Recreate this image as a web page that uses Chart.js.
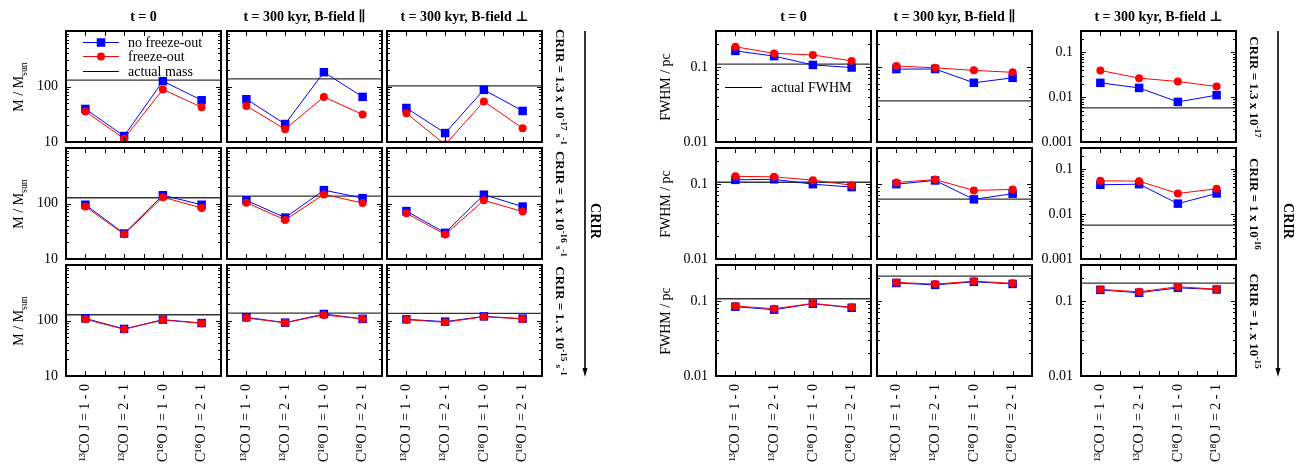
<!DOCTYPE html>
<html>
<head>
<meta charset="utf-8">
<script src="https://cdn.jsdelivr.net/npm/chart.js@4.4.1/dist/chart.umd.min.js"></script>
<style>
  body { margin: 0; background: #fff; width: 1297px; height: 467px; position: relative; overflow: hidden;
         font-family: 'Liberation Serif', 'DejaVu Serif', serif; color: #000; }
  canvas { position: absolute; }
  .lbl { position: absolute; white-space: nowrap; font-size: 14px; line-height: 16px; transform: translate(-50%, -50%); }
  .b { font-weight: bold; }
  .crir { font-size: 13px; }
  .up { transform: translate(-50%, -50%) rotate(-90deg); }
  .down { transform: translate(-50%, -50%) rotate(90deg); }
  sup, sub, small { font-size: 70%; line-height: 0; }
  svg { position: absolute; }
</style>
</head>
<body>
<script>
// --- data ---
const lines = ['¹³CO J = 1 - 0', '¹³CO J = 2 - 1', 'C¹⁸O J = 1 - 0', 'C¹⁸O J = 2 - 1'];
const columnTitles = ['t = 0', 't = 300 kyr, B-field ∥', 't = 300 kyr, B-field ⊥'];
const seriesNames = ['no freeze-out', 'freeze-out'];
const truthNames = ['actual mass', 'actual FWHM'];
const yTitles = ['M / M<sub>sun</sub>', 'FWHM / pc'];
const crirMass = ['CRIR = 1.3 x 10<sup>-17</sup> <small>s</small><sup>-1</sup>',
                  'CRIR = 1 x 10<sup>-16</sup> <small>s</small><sup>-1</sup>',
                  'CRIR = 1. x 10<sup>-15</sup> <small>s</small><sup>-1</sup>'];
const crirFwhm = ['CRIR = 1.3 x 10<sup>-17</sup>', 'CRIR = 1 x 10<sup>-16</sup>', 'CRIR = 1. x 10<sup>-15</sup>'];

// [CRIR row][column][line]
const massNoFO = [
  [[39.4, 12.8, 125, 56.6], [59, 21.1, 181, 65], [41, 14.5, 87, 36.3]],
  [[95, 28.8, 141, 95], [114, 55.7, 174, 125], [73, 29.6, 144, 88]],
  [[109, 70.6, 103.5, 90], [114, 91.5, 131, 107], [105, 95.4, 118.6, 108]]
];
const massFO = [
  [[35.4, 11.5, 88.5, 42.4], [44.7, 17, 65, 31.3], [33, 9, 53.8, 17.7]],
  [[88, 28, 130, 83], [103.5, 50.6, 146, 102], [66.7, 27.7, 114, 71.5]],
  [[105, 69.5, 102, 89], [111, 91, 126, 107], [103.5, 92.7, 117, 106.7]]
];
const massTrue = [[130, 137, 103], [127, 136, 134], [127, 136, 134]];

const fwhmNoFO = [
  [[0.163, 0.139, 0.106, 0.098], [0.0935, 0.0935, 0.0614, 0.0714], [0.0209, 0.0161, 0.00785, 0.0111]],
  [[0.113, 0.115, 0.099, 0.0905], [0.099, 0.111, 0.0622, 0.074], [0.0453, 0.0468, 0.0172, 0.029]],
  [[0.0836, 0.0763, 0.0916, 0.081], [0.173, 0.163, 0.179, 0.168], [0.14, 0.128, 0.149, 0.1416]]
];
const fwhmFO = [
  [[0.185, 0.151, 0.144, 0.12], [0.1025, 0.097, 0.0898, 0.0845], [0.0395, 0.0266, 0.0224, 0.0173]],
  [[0.126, 0.124, 0.112, 0.096], [0.1044, 0.114, 0.0818, 0.0843], [0.0556, 0.0546, 0.029, 0.037]],
  [[0.0853, 0.0786, 0.0925, 0.082], [0.176, 0.167, 0.183, 0.171], [0.142, 0.132, 0.154, 0.143]]
];
const fwhmTrue = [[0.109, 0.0352, 0.00577], [0.105, 0.0628, 0.00568], [0.1066, 0.213, 0.172]];

const massRange = [10, 1000];
const fwhmMin = [[0.01, 0.01, 0.001], [0.01, 0.01, 0.001], [0.01, 0.01, 0.01]];
const fwhmMax = 0.3;
const massTicks = [10, 100];
const fwhmTicks = [0.001, 0.01, 0.1];

// --- layout ---
const FONT = "'Liberation Serif', 'DejaVu Serif', serif";
const groupLefts = [[66, 227, 387], [716, 877, 1081]];
const rowTops = [31, 148, 265];
const PW = 155, PH = 111;
const PL = 64, PT = 24, PR = 10, PB = 100;

// frame, inward ticks and the "actual" line
const framePlugin = {
  id: 'frame',
  beforeDatasetsDraw(chart, args, opts) {
    const a = chart.chartArea, ctx = chart.ctx;
    const y = chart.scales.y.getPixelForValue(opts.truth);
    ctx.save();
    ctx.strokeStyle = '#333';
    ctx.lineWidth = 1.3;
    ctx.beginPath(); ctx.moveTo(a.left, y); ctx.lineTo(a.right, y); ctx.stroke();
    ctx.restore();
  },
  afterDraw(chart) {
    const a = chart.chartArea, ctx = chart.ctx;
    const xs = chart.scales.x, ys = chart.scales.y;
    ctx.save();
    ctx.strokeStyle = '#000';
    ctx.lineWidth = 1;
    ctx.beginPath();
    for (let i = 0; i <= 2 * (lines.length - 1); i++) {
      const x = Math.round(xs.getPixelForValue(i / 2)) + 0.5;
      ctx.moveTo(x, a.top); ctx.lineTo(x, a.top + 5);
      ctx.moveTo(x, a.bottom); ctx.lineTo(x, a.bottom - 5);
    }
    const lo = Math.floor(Math.log10(ys.min)), hi = Math.ceil(Math.log10(ys.max));
    for (let k = lo; k <= hi; k++) {
      for (let m = 1; m <= 9; m++) {
        const v = m * Math.pow(10, k);
        if (v < ys.min * 0.999 || v > ys.max * 1.001) continue;
        const y = Math.round(ys.getPixelForValue(v)) + 0.5;
        const len = m === 1 ? 5 : 3;
        ctx.moveTo(a.left, y); ctx.lineTo(a.left + len, y);
        ctx.moveTo(a.right, y); ctx.lineTo(a.right - len, y);
      }
    }
    ctx.stroke();
    ctx.lineWidth = 2;
    ctx.strokeRect(a.left, a.top, a.width, a.height);
    ctx.restore();
  }
};

// key drawn inside the first panel of each group
const keyPlugin = {
  id: 'key',
  afterDraw(chart, args, opts) {
    if (!opts.show) return;
    const a = chart.chartArea, ctx = chart.ctx;
    const items = [];
    if (opts.series) {
      chart.data.datasets.forEach(d => items.push({ text: d.label, color: d.borderColor, style: d.pointStyle }));
    }
    items.push({ text: opts.truthText, color: '#000', style: null });
    ctx.save();
    ctx.font = '14px ' + FONT;
    ctx.textBaseline = 'middle';
    items.forEach((it, i) => {
      const y = Math.round(a.top + opts.y + i * opts.step) + 0.5;
      const x0 = a.left + opts.x0, x1 = a.left + opts.x1, xm = (x0 + x1) / 2;
      ctx.strokeStyle = it.color; ctx.lineWidth = 1;
      ctx.beginPath(); ctx.moveTo(x0, y); ctx.lineTo(x1, y); ctx.stroke();
      ctx.fillStyle = it.color;
      if (it.style === 'rect') ctx.fillRect(xm - 4.25, y - 4.25, 8.5, 8.5);
      if (it.style === 'circle') { ctx.beginPath(); ctx.arc(xm, y, 4, 0, 2 * Math.PI); ctx.fill(); }
      ctx.fillStyle = '#000';
      ctx.fillText(it.text, a.left + opts.tx, y + 1);
    });
    ctx.restore();
  }
};

function addLabel(html, x, y, cls) {
  const d = document.createElement('div');
  d.className = 'lbl ' + (cls || '');
  d.innerHTML = html;
  d.style.left = x + 'px';
  d.style.top = y + 'px';
  document.body.appendChild(d);
}

function makePanel(g, r, c) {
  const left = groupLefts[g][c], top = rowTops[r];
  const isMass = g === 0;
  const ymin = isMass ? massRange[0] : fwhmMin[r][c];
  const ymax = isMass ? massRange[1] : fwhmMax;
  const tickList = isMass ? massTicks : fwhmTicks;
  const showY = isMass ? c === 0 : c !== 1;
  const cv = document.createElement('canvas');
  cv.width = PW + PL + PR;
  cv.height = PH + PT + PB;
  cv.style.left = (left - PL) + 'px';
  cv.style.top = (top - PT) + 'px';
  document.body.appendChild(cv);
  const tickFont = { family: FONT, size: 14 };

  new Chart(cv, {
    type: 'line',
    data: {
      labels: lines,
      datasets: [
        { label: seriesNames[0], data: (isMass ? massNoFO : fwhmNoFO)[r][c],
          borderColor: '#0000ff', backgroundColor: '#0000ff', borderWidth: 1,
          pointStyle: 'rect', pointRadius: 6, pointBorderWidth: 0, pointBorderColor: '#0000ff',
          order: 1, clip: 0 },
        { label: seriesNames[1], data: (isMass ? massFO : fwhmFO)[r][c],
          borderColor: '#ff0000', backgroundColor: '#ff0000', borderWidth: 1,
          pointStyle: 'circle', pointRadius: 4, pointBorderWidth: 0, pointBorderColor: '#ff0000',
          order: 0, clip: 0 }
      ]
    },
    options: {
      responsive: false,
      animation: false,
      events: [],
      layout: { padding: { top: PT, right: PR, left: 0, bottom: 0 } },
      scales: {
        x: {
          type: 'category', offset: true,
          grid: { display: false, drawTicks: false }, border: { display: false },
          ticks: { display: r === 2, autoSkip: false, minRotation: 90, maxRotation: 90,
                   padding: 8, color: '#000', font: tickFont },
          afterFit: s => { s.height = PB; }
        },
        y: {
          type: 'logarithmic', min: ymin, max: ymax,
          grid: { display: false, drawTicks: false }, border: { display: false },
          ticks: {
            display: showY, autoSkip: false, padding: 8, color: '#000', font: tickFont,
            callback: v => {
              const t = tickList.find(t => Math.abs(Math.log10(v / t)) < 1e-6);
              return t === undefined ? '' : String(t);
            }
          },
          afterFit: s => { s.width = PL; }
        }
      },
      plugins: {
        legend: { display: false },
        tooltip: { enabled: false },
        frame: { truth: (isMass ? massTrue : fwhmTrue)[r][c] },
        key: (r === 0 && c === 0)
          ? (isMass
              ? { show: true, series: true, truthText: truthNames[0], x0: 17, x1: 53, tx: 62, y: 10.5, step: 14.5 }
              : { show: true, series: false, truthText: truthNames[1], x0: 9, x1: 46, tx: 55, y: 55.5, step: 14.5 })
          : { show: false }
      }
    },
    plugins: [framePlugin, keyPlugin]
  });
}

for (let g = 0; g < 2; g++) {
  for (let r = 0; r < 3; r++) {
    for (let c = 0; c < 3; c++) makePanel(g, r, c);
  }
}

// titles and side labels
for (let g = 0; g < 2; g++) {
  for (let c = 0; c < 3; c++) addLabel(columnTitles[c], groupLefts[g][c] + PW / 2, 17, 'b');
  for (let r = 0; r < 3; r++) {
    const cy = rowTops[r] + PH / 2;
    addLabel(yTitles[g], g === 0 ? 19 : 666, cy, 'up');
    addLabel((g === 0 ? crirMass : crirFwhm)[r], g === 0 ? 560 : 1254, cy, 'down b crir');
  }
  addLabel('CRIR', g === 0 ? 595 : 1288, 221, 'down b');
}

// downward arrows beside each group
[585, 1278].forEach(x => {
  const s = document.createElementNS('http://www.w3.org/2000/svg', 'svg');
  s.setAttribute('width', 12);
  s.setAttribute('height', 352);
  s.style.left = (x - 6) + 'px';
  s.style.top = '28px';
  s.innerHTML = '<line x1="6" y1="3" x2="6" y2="342" stroke="#000" stroke-width="1.6"/>' +
                '<polygon points="3.5,340 8.5,340 6,349" fill="#000"/>';
  document.body.appendChild(s);
});
</script>
</body>
</html>
